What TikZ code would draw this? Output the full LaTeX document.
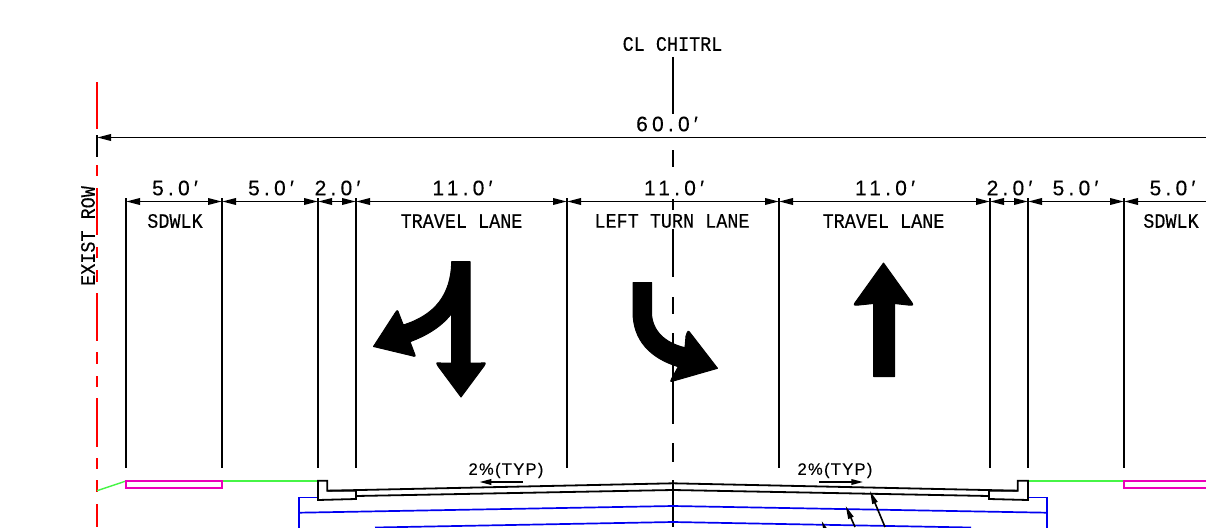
\documentclass[tikz,border=0pt]{standalone}
\usepackage{fontspec}
\usetikzlibrary{arrows.meta}
\newfontfamily\lblfont[FakeStretch=0.9,FakeBold=0.3]{Liberation Mono}
\newfontfamily\dimfont[LetterSpace=20,FakeBold=0.3]{Liberation Sans}
\newfontfamily\slopefont[LetterSpace=8,FakeBold=0.25]{Liberation Sans}
\definecolor{cadred}{RGB}{255,0,0}
\definecolor{cadgreen}{RGB}{70,245,70}
\definecolor{cadpink}{RGB}{235,0,185}
\definecolor{cadblue}{RGB}{0,0,240}
\tikzset{
  ink/.style={line width=1.9pt,black},
  dimline/.style={ink,{Triangle[length=14pt,width=6.5pt]}-{Triangle[length=14pt,width=6.5pt]}},
  dimopen/.style={ink,{Triangle[length=14pt,width=6.5pt]}-},
  extline/.style={ink},
  dimtext/.style={inner sep=0pt,font=\dimfont\fontsize{21}{21}\selectfont},
  lbltext/.style={inner sep=0pt,font=\lblfont\fontsize{20.5}{20.5}\selectfont},
  slopetext/.style={inner sep=0pt,font=\slopefont\fontsize{16.5}{16.5}\selectfont},
  rowline/.style={cadred,line width=1.9pt},
  sectionline/.style={black,line width=1.8pt,line join=miter},
  slab/.style={cadblue,line width=1.7pt},
  grade/.style={cadgreen,line width=1.4pt},
  walk/.style={cadpink,line width=1.8pt},
  marking/.style={fill=black,draw=black,line width=1pt,line join=round},
  slopearrow/.style={ink,-{Triangle[length=12pt,width=5.5pt]}},
  leader/.style={black,line width=1.6pt,-{Triangle[length=13pt,width=5.5pt]}}
}
\begin{document}
\begin{tikzpicture}[x=1pt,y=-1pt]
\path[use as bounding box,fill=white] (0,0) rectangle (1206,527);
\clip (0,0) rectangle (1206,527);

% named positions
\foreach \n/\x in {a/126,b/222,c/318,d/356,e/567,f/779,g/990,h/1028,i/1124}{
  \coordinate (\n T) at (\x,198);
  \coordinate (\n D) at (\x,201.5);
  \coordinate (\n B) at (\x,468);
}
\coordinate (rowD) at (97,137.5);
\coordinate (rowE) at (1206,137.5);
\coordinate (iE) at (1206,201.5);

% right of way line
\foreach \p/\q in {82/129,165/176,188/235,247/258,270/282,293/341,352/364,376/387,398/447,458/469,480/492,504/527}{
  \draw[rowline] (97,\p) -- (97,\q);
}
\draw[ink] (97,135) -- (97,157);

% centre line
\foreach \p/\q in {57/114,150/167,199/210,229/277,297/314,333/424,443/462,480/527}{
  \draw[ink] (673,\p) -- (673,\q);
}

% extension lines
\foreach \n in {a,b,c,d,e,f,g,h,i}{\draw[extline] (\n T) -- (\n B);}

% dimensions
\draw[dimopen] (rowD) -- (rowE);
\draw[dimline] (aD) -- (bD);
\draw[dimline] (bD) -- (cD);
\draw[dimline] (cD) -- (dD);
\draw[dimline] (dD) -- (eD);
\draw[dimline] (eD) -- (fD);
\draw[dimline] (fD) -- (gD);
\draw[dimline] (gD) -- (hD);
\draw[dimline] (hD) -- (iD);
\draw[dimopen] (iD) -- (iE);

\node[dimtext] (t60) at (667,124) {60.0′};
\node[dimtext] (t1) at (175,188) {5.0′};
\node[dimtext] (t2) at (271,188) {5.0′};
\node[dimtext] (t3) at (337.5,188) {2.0′};
\node[dimtext] (t4) at (462.5,188) {11.0′};
\node[dimtext] (t5) at (674,188) {11.0′};
\node[dimtext] (t6) at (885,188) {11.0′};
\node[dimtext] (t7) at (1009.5,188) {2.0′};
\node[dimtext] (t8) at (1075.5,188) {5.0′};
\node[dimtext] (t9) at (1172.5,188) {5.0′};

\node[lbltext] (cl) at (672.5,44) {CL CHITRL};
\node[lbltext] (l1) at (175,221) {SDWLK};
\node[lbltext] (l2) at (461.5,221) {TRAVEL LANE};
\node[lbltext,fill=white,inner xsep=0pt] (l3) at (672,221) {LEFT TURN LANE};
\node[lbltext] (l4) at (883.5,221) {TRAVEL LANE};
\node[lbltext] (l5) at (1171,221) {SDWLK};
\node[lbltext,rotate=90] (row) at (88,236) {EXIST ROW};

% pavement markings
\path[marking] (451.7,261.7) -- (470,261.7) -- (470,363)
  -- (481,363) .. controls (486,362.5) .. (484,366) -- (461,397)
  -- (438,366) .. controls (436,362.5) .. (441,363) -- (451.7,363) -- (451.7,313.3)
  .. controls (442,326) and (428,335) .. (410,341.7)
  -- (413.5,351) .. controls (416,357) .. (411,355.5) -- (373.5,346.5)
  -- (394.5,314) .. controls (397.5,309.5) .. (399,314) -- (403.3,325)
  .. controls (435,315) and (451,295) .. (451.7,261.7) -- cycle;
\path[marking] (633,282.5) -- (651.5,282.5) -- (651.5,313)
  .. controls (652,331) and (665,343) .. (685,347.7)
  -- (686,336) .. controls (688,330) .. (691,334) -- (717.5,368.3)
  -- (675,380.5) .. controls (670,382) .. (672,378) -- (678.3,366.7)
  .. controls (650,358) and (633,340) .. (633,312) -- cycle;
\path[marking] (883.5,263) -- (910,300) .. controls (914,305.5) .. (908,305)
  -- (894.5,303.5) -- (894.5,376.5) -- (873.5,376.5) -- (873.5,303.5)
  -- (859,305) .. controls (853,305.5) .. (857,300) -- cycle;

% slope notes
\node[slopetext] (s1) at (506,470.5) {2\%(TYP)};
\node[slopetext] (s2) at (835,470.5) {2\%(TYP)};
\coordinate (s1a) at (522.7,482); \coordinate (s1b) at (479.3,482);
\coordinate (s2a) at (819,482); \coordinate (s2b) at (863.3,482);
\draw[slopearrow] (s1a) -- (s1b);
\draw[slopearrow] (s2a) -- (s2b);

% ground and sidewalks
\draw[grade] (97,490.7) -- (126,481);
\draw[grade] (222,481) -- (318,481);
\draw[grade] (1028,481) -- (1124,481);
\draw[walk] (126,481) rectangle (222,487.7);
\draw[walk] (1216,481) -- (1124,481) -- (1124,487.7) -- (1216,487.7);

% slab layers
\draw[slab] (318,497.5) -- (299,497.5) -- (299,530);
\draw[slab] (1028,497.5) -- (1047,497.5) -- (1047,530);
\draw[slab] (299,512.7) -- (673,506) -- (1047,512.7);
\draw[slab] (375,527.5) -- (673,522) -- (971,527.5);

% curbs and pavement
\draw[sectionline] (318,480.7) -- (327.3,480.7) -- (327.3,490.7) -- (356,490.7)
  -- (356,499) -- (318,500) -- cycle;
\draw[sectionline] (1028,480.7) -- (1017.7,480.7) -- (1017.7,490.7) -- (989,490.7)
  -- (989,499) -- (1028,500) -- cycle;
\draw[sectionline] (327.3,490.7) -- (673,483.3) -- (1017.7,490.7);
\draw[sectionline] (356,496) -- (673,490) -- (989,496);

% leaders
\draw[leader] (885,527) -- (870,491);
\draw[leader] (855,527) -- (845.7,506);
\draw[leader] (825.5,530) -- (821.7,521);
\end{tikzpicture}
\end{document}
